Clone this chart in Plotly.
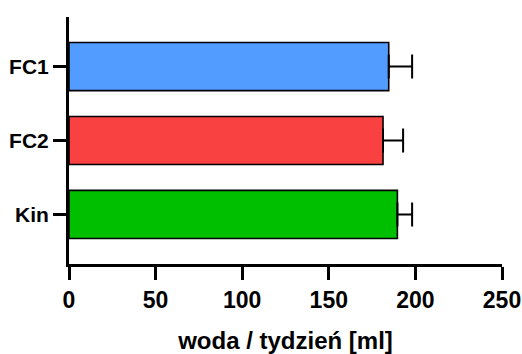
import plotly.graph_objects as go

# Weekly water intake per group
groups = ["FC1", "FC2", "Kin"]
means = [184.6, 181.3, 189.6]
sem = [13.5, 11.6, 8.5]
colors = ["#529CFF", "#FA4141", "#00BF00"]

x_ticks = [0, 50, 100, 150, 200, 250]

FONT = "Liberation Sans"

fig = go.Figure()
# y positions: first group on top
ypos = [len(groups) - 1 - i for i in range(len(groups))]
fig.add_trace(go.Bar(
    x=means,
    y=ypos,
    orientation="h",
    width=0.65,
    marker=dict(color=colors, line=dict(color="black", width=1.6)),
    error_x=dict(
        type="data",
        symmetric=False,
        array=sem,
        arrayminus=[0] * len(sem),
        color="black",
        thickness=2,
        width=12,
    ),
    showlegend=False,
))

fig.update_layout(
    width=522,
    height=354,
    margin=dict(l=69, r=20, t=17, b=90),
    plot_bgcolor="white",
    paper_bgcolor="white",
    font=dict(family=FONT, color="black"),
)

fig.update_xaxes(
    range=[0, 250],
    tickvals=x_ticks,
    ticktext=[str(v) for v in x_ticks],
    automargin=False,
    showline=True,
    linecolor="black",
    linewidth=3,
    ticks="outside",
    ticklen=13,
    tickwidth=3,
    tickcolor="black",
    showgrid=False,
    zeroline=False,
    tickfont=dict(family=FONT, size=23, color="black", weight="bold"),
    title=dict(text="<b>woda / tydzień [ml]</b>", font=dict(family=FONT, size=24, color="black"), standoff=31),
)

fig.update_yaxes(
    range=[-0.67, 2.67],
    tickvals=ypos,
    ticktext=[f"<b>{g}</b>" for g in groups],
    automargin=False,
    showline=True,
    linecolor="black",
    linewidth=3,
    ticks="outside",
    ticklen=13,
    tickwidth=3,
    tickcolor="black",
    showgrid=False,
    zeroline=False,
    tickfont=dict(family=FONT, size=21, color="black"),
)

fig.write_html("out.html")
